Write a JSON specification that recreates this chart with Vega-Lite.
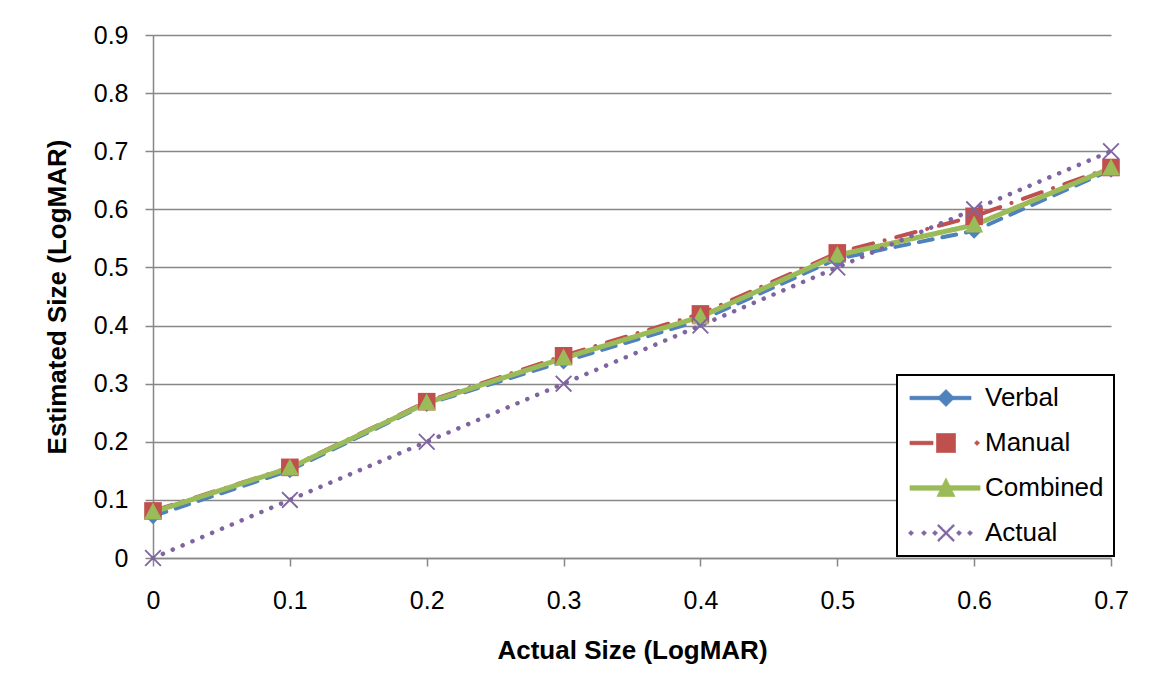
{
  "$schema": "https://vega.github.io/schema/vega-lite/v6.json",
  "width": 958,
  "height": 523,
  "autosize": {"type": "none"},
  "padding": {"left": 153, "top": 35, "right": 43, "bottom": 135},
  "background": "white",
  "config": {"view": {"stroke": null}, "font": "Liberation Sans"},
  "data": {
    "values": [
      {"series": "Verbal", "actual": 0.0, "estimated": 0.072},
      {"series": "Verbal", "actual": 0.1, "estimated": 0.151},
      {"series": "Verbal", "actual": 0.2, "estimated": 0.265},
      {"series": "Verbal", "actual": 0.3, "estimated": 0.338},
      {"series": "Verbal", "actual": 0.4, "estimated": 0.409},
      {"series": "Verbal", "actual": 0.5, "estimated": 0.515},
      {"series": "Verbal", "actual": 0.6, "estimated": 0.563},
      {"series": "Verbal", "actual": 0.7, "estimated": 0.668},
      {"series": "Manual", "actual": 0.0, "estimated": 0.081},
      {"series": "Manual", "actual": 0.1, "estimated": 0.156},
      {"series": "Manual", "actual": 0.2, "estimated": 0.269},
      {"series": "Manual", "actual": 0.3, "estimated": 0.348},
      {"series": "Manual", "actual": 0.4, "estimated": 0.42},
      {"series": "Manual", "actual": 0.5, "estimated": 0.525},
      {"series": "Manual", "actual": 0.6, "estimated": 0.588},
      {"series": "Manual", "actual": 0.7, "estimated": 0.672},
      {"series": "Combined", "actual": 0.0, "estimated": 0.079},
      {"series": "Combined", "actual": 0.1, "estimated": 0.155},
      {"series": "Combined", "actual": 0.2, "estimated": 0.267},
      {"series": "Combined", "actual": 0.3, "estimated": 0.344},
      {"series": "Combined", "actual": 0.4, "estimated": 0.415},
      {"series": "Combined", "actual": 0.5, "estimated": 0.521},
      {"series": "Combined", "actual": 0.6, "estimated": 0.573},
      {"series": "Combined", "actual": 0.7, "estimated": 0.671},
      {"series": "Actual", "actual": 0.0, "estimated": 0.0},
      {"series": "Actual", "actual": 0.1, "estimated": 0.1},
      {"series": "Actual", "actual": 0.2, "estimated": 0.2},
      {"series": "Actual", "actual": 0.3, "estimated": 0.3},
      {"series": "Actual", "actual": 0.4, "estimated": 0.4},
      {"series": "Actual", "actual": 0.5, "estimated": 0.5},
      {"series": "Actual", "actual": 0.6, "estimated": 0.6},
      {"series": "Actual", "actual": 0.7, "estimated": 0.7}
    ]
  },
  "encoding": {
    "x": {
      "field": "actual",
      "type": "quantitative",
      "scale": {"domain": [0, 0.7], "nice": false, "zero": false},
      "axis": {
        "title": "Actual Size (LogMAR)",
        "values": [0, 0.1, 0.2, 0.3, 0.4, 0.5, 0.6, 0.7],
        "format": ".1~f",
        "grid": false,
        "domainColor": "#878787",
        "domainWidth": 1.5,
        "tickColor": "#878787",
        "tickWidth": 1.5,
        "tickSize": 8,
        "labelFont": "Liberation Sans",
        "labelFontSize": 25,
        "labelColor": "black",
        "labelPadding": 22,
        "labelFlush": false,
        "labelOverlap": false,
        "titleFont": "Liberation Sans",
        "titleFontSize": 26,
        "titleFontWeight": "bold",
        "titleColor": "black",
        "titlePadding": 24
      }
    },
    "y": {
      "field": "estimated",
      "type": "quantitative",
      "scale": {"domain": [0, 0.9], "nice": false, "zero": false},
      "axis": {
        "title": "Estimated Size (LogMAR)",
        "values": [0, 0.1, 0.2, 0.3, 0.4, 0.5, 0.6, 0.7, 0.8, 0.9],
        "format": ".1~f",
        "grid": true,
        "gridColor": "#878787",
        "gridWidth": 1.5,
        "domainColor": "#878787",
        "domainWidth": 1.5,
        "tickColor": "#878787",
        "tickWidth": 1.5,
        "tickSize": 8,
        "labelFont": "Liberation Sans",
        "labelFontSize": 25,
        "labelColor": "black",
        "labelPadding": 17,
        "labelFlush": false,
        "labelOverlap": false,
        "titleFont": "Liberation Sans",
        "titleFontSize": 26,
        "titleFontWeight": "bold",
        "titleColor": "black",
        "titlePadding": 23
      }
    },
    "color": {
      "field": "series",
      "type": "nominal",
      "scale": {"domain": ["Verbal", "Manual", "Combined", "Actual"], "range": ["#4F81BD", "#C0504D", "#9BBB59", "#8064A2"]},
      "legend": {
        "title": null,
        "orient": "none",
        "legendX": 744,
        "legendY": 340,
        "direction": "vertical",
        "padding": 10,
        "strokeColor": "black",
        "fillColor": "white",
        "labelFont": "Liberation Sans",
        "labelFontSize": 26,
        "labelColor": "black",
        "labelLimit": 400,
        "symbolSize": 400,
        "symbolOffset": 26,
        "labelOffset": 26,
        "rowPadding": 19,
        "encode": {
          "legend": {"update": {"strokeWidth": {"value": 2}}},
          "symbols": {
            "update": {
              "shape": {"signal": "datum.value === 'Verbal' ? 'M-3.6,-0.17L-0.7,-0.17L-0.7,0.17L-3.6,0.17ZM0.7,-0.17L2.5,-0.17L2.5,0.17L0.7,0.17ZM0,-0.85L0.85,0L0,0.85L-0.85,0Z' : datum.value === 'Manual' ? 'M-3.6,-0.17L-1.3,-0.17L-1.3,0.17L-3.6,0.17ZM-0.95,-0.95L0.95,-0.95L0.95,0.95L-0.95,0.95ZM2.85,0L3.1,-0.25L3.35,0L3.1,0.25Z' : datum.value === 'Combined' ? 'M-3.6,-0.22L3.4,-0.22L3.4,0.22L-3.6,0.22ZM0,-1L0.9,0.85L-0.9,0.85Z' : 'M-3.75,0L-3.5,-0.25L-3.25,0L-3.5,0.25ZM-2.45,0L-2.2,-0.25L-1.95,0L-2.2,0.25ZM-1.35,0L-1.1,-0.25L-0.85,0L-1.1,0.25ZM1.05,0L1.3,-0.25L1.55,0L1.3,0.25ZM2.15,0L2.4,-0.25L2.65,0L2.4,0.25ZM-0.85,-0.72L-0.72,-0.85L0,-0.13L0.72,-0.85L0.85,-0.72L0.13,0L0.85,0.72L0.72,0.85L0,0.13L-0.72,0.85L-0.85,0.72L-0.13,0Z'"},
              "fill": {"signal": "datum.value === 'Verbal' ? '#4F81BD' : datum.value === 'Manual' ? '#C0504D' : datum.value === 'Combined' ? '#9BBB59' : '#8064A2'"},
              "stroke": {"signal": "datum.value === 'Verbal' ? '#4F81BD' : datum.value === 'Manual' ? '#C0504D' : datum.value === 'Combined' ? '#9BBB59' : '#8064A2'"},
              "strokeWidth": {"value": 0.8},
              "strokeDash": {"value": [1, 0]},
              "size": {"value": 400},
              "opacity": {"value": 1}
            }
          }
        }
      }
    }
  },
  "layer": [
    {
      "mark": {"type": "line", "strokeCap": "round", "strokeJoin": "round"},
      "encoding": {
        "strokeDash": {
          "field": "series",
          "type": "nominal",
          "scale": {"domain": ["Manual", "Verbal", "Combined", "Actual"], "range": [[20, 12, 0.1, 12], [14, 10], [1, 0], [0.1, 10.6]]},
          "legend": null
        },
        "strokeWidth": {
          "field": "series",
          "type": "nominal",
          "scale": {"type": "ordinal", "domain": ["Combined", "Verbal", "Manual", "Actual"], "range": [5, 4, 4, 4.5]},
          "legend": null
        }
      }
    },
    {
      "mark": {"type": "point", "filled": true, "opacity": 1, "size": 400, "strokeWidth": 0},
      "encoding": {
        "shape": {
          "field": "series",
          "type": "nominal",
          "scale": {
            "domain": ["Actual", "Verbal", "Manual", "Combined"],
            "range": [
              "M-0.85,-0.72L-0.72,-0.85L0,-0.13L0.72,-0.85L0.85,-0.72L0.13,0L0.85,0.72L0.72,0.85L0,0.13L-0.72,0.85L-0.85,0.72L-0.13,0Z",
              "M0,-0.8L0.8,0L0,0.8L-0.8,0Z",
              "M-0.88,-0.88L0.88,-0.88L0.88,0.88L-0.88,0.88Z",
              "M0,-0.95L0.9,0.75L-0.9,0.75Z"
            ]
          },
          "legend": null
        }
      }
    }
  ]
}
